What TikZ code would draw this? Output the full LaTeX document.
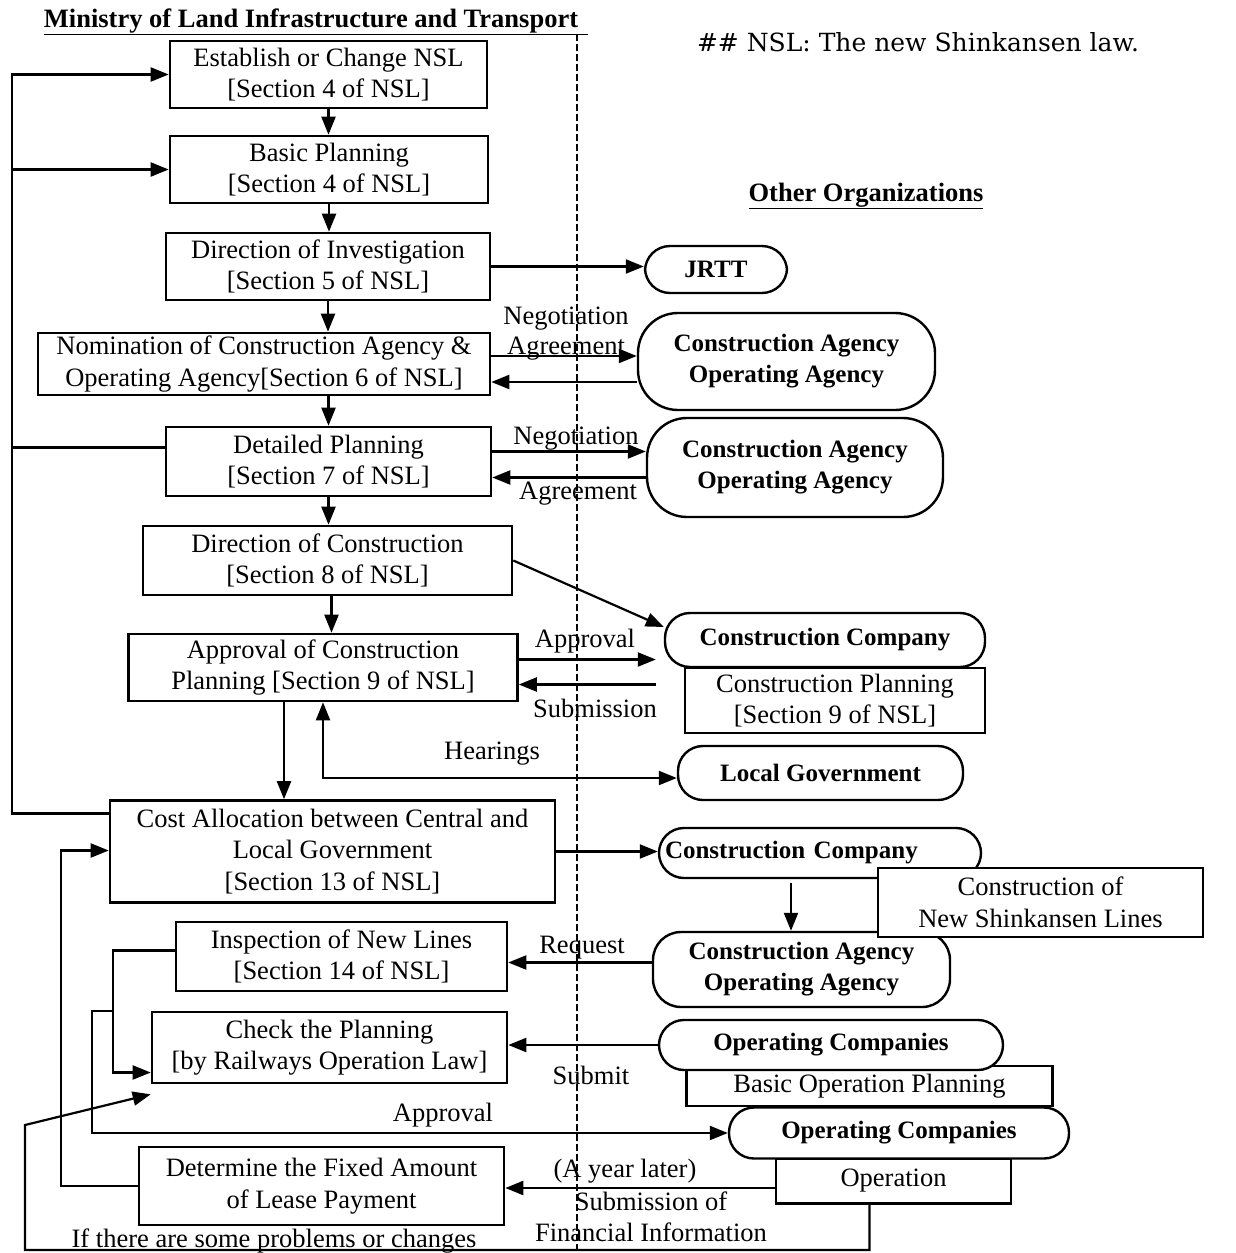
\documentclass[tikz,border=0pt]{standalone}
\usepackage{fontspec}
\setmainfont{Liberation Serif}
\newfontfamily\notafont{DejaVu Serif}
\usetikzlibrary{arrows.meta}
\tikzstyle{boxministero} = [rectangle, draw, line width=2.6pt, fill=white, align=center, inner sep=0pt]
\tikzstyle{boxente} = [rectangle, rounded corners=25pt, draw, line width=2.4pt, fill=white, align=center, inner sep=0pt, font=\fontsize{25}{31}\selectfont\bfseries]
\tikzstyle{freccia} = [line width=2.2pt, -{Triangle[length=18pt,width=14pt]}]
\tikzstyle{doppiafreccia} = [line width=2.2pt, {Triangle[length=18pt,width=14pt]}-{Triangle[length=18pt,width=14pt]}]
\tikzstyle{linea} = [line width=2.2pt]
\tikzstyle{etichetta} = [inner sep=0pt, text height=18pt, text depth=6pt]

\begin{document}
\begin{tikzpicture}[x=1pt, y=-1pt, font=\fontsize{26.5}{31.5}\selectfont]
\useasboundingbox (0,0) rectangle (1235,1253);

\draw[line width=1.8pt, dash pattern=on 7pt off 3pt] (577,34) -- (577,1253);

\node (titolo) [inner sep=0pt] at (316,22) {\underline{\textbf{Ministry of Land Infrastructure and Transport}\hspace{10pt}}};
\node (altri) [inner sep=0pt] at (866,196) {\underline{\textbf{Other Organizations}}};
\node (nota) [inner sep=0pt, font=\notafont\fontsize{25}{30}\selectfont] at (918,42) {\#\# NSL: The new Shinkansen law.};

\node (1) [boxministero, minimum width=317pt, minimum height=67pt] at (328.5,74.5) {Establish or Change NSL\\{[Section 4 of NSL]}};
\node (2) [boxministero, minimum width=318pt, minimum height=67pt] at (329,169.5) {Basic Planning\\{[Section 4 of NSL]}};
\node (3) [boxministero, minimum width=324pt, minimum height=67pt] at (328,266.5) {Direction of Investigation\\{[Section 5 of NSL]}};
\node (4) [boxministero, minimum width=452pt, minimum height=62pt] at (264,364) {Nomination of Construction Agency \&\\Operating Agency[Section 6 of NSL]};
\node (5) [boxministero, minimum width=325pt, minimum height=69pt] at (328.5,461.5) {Detailed Planning\\{[Section 7 of NSL]}};
\node (6) [boxministero, minimum width=369pt, minimum height=69pt] at (327.5,560.5) {Direction of Construction\\{[Section 8 of NSL]}};
\node (7) [boxministero, minimum width=389pt, minimum height=67pt] at (323,667.5) {Approval of Construction\\Planning [Section 9 of NSL]};
\node (8) [boxministero, minimum width=445pt, minimum height=102pt] at (332.5,851.5) {Cost Allocation between Central and\\Local Government\\{[Section 13 of NSL]}};
\node (9) [boxministero, minimum width=331pt, minimum height=69pt] at (341.5,956.5) {Inspection of New Lines\\{[Section 14 of NSL]}};
\node (10) [boxministero, minimum width=355pt, minimum height=71pt] at (329.5,1047.5) {Check the Planning\\{[by Railways Operation Law]}};
\node (11) [boxministero, minimum width=365pt, minimum height=78pt] at (321.5,1186) {Determine the Fixed Amount\\of Lease Payment};

\node (jrtt) [boxente, minimum width=142pt, minimum height=47pt] at (716,269.5) {JRTT};
\node (ca1) [boxente, rounded corners=40pt, minimum width=297pt, minimum height=97pt] at (786.5,361.5) {Construction Agency\\Operating Agency};
\node (ca2) [boxente, rounded corners=40pt, minimum width=296pt, minimum height=99pt] at (795,467.5) {Construction Agency\\Operating Agency};
\node (cp) [boxministero, minimum width=300pt, minimum height=65pt] at (835,700.5) {Construction Planning\\{[Section 9 of NSL]}};
\node (cc1) [boxente, minimum width=320pt, minimum height=54pt] at (825,640) {Construction Company};
\node (lg) [boxente, minimum width=285pt, minimum height=54pt] at (820.5,773) {Local Government};
\node (cc2) [boxente, minimum height=50pt, text width=310pt, align=left, inner xsep=6pt] at (820,853) {Construction Company};
\node (ca3) [boxente, rounded corners=28pt, minimum width=297pt, minimum height=75pt] at (801.5,969.5) {Construction Agency\\Operating Agency};
\node (cnsl) [boxministero, minimum width=325pt, minimum height=69pt] at (1040.5,902.5) {Construction of\\New Shinkansen Lines};
\node (bop) [boxministero, minimum width=366pt, minimum height=40pt] at (869.5,1086) {Basic Operation Planning};
\node (opc1) [boxente, minimum width=344pt, minimum height=50pt] at (831,1045) {Operating Companies};
\node (op) [boxministero, minimum width=235pt, minimum height=45pt] at (893.5,1181) {Operation};
\node (opc2) [boxente, minimum width=340pt, minimum height=51pt] at (899,1133) {Operating Companies};

\draw[freccia] (1.south) -- (1.south |- 2.north);
\draw[freccia] (2.south) -- (2.south |- 3.north);
\draw[freccia] (3.south) -- (3.south |- 4.north);
\draw[freccia] (5.north |- 4.south) -- (5.north);
\draw[freccia] (5.south) -- (5.south |- 6.north);
\draw[freccia] ([xshift=4pt]6.south) -- ([xshift=4pt]6.south |- 7.north);
\draw[freccia] ([xshift=-39pt]7.south) -- ([xshift=-39pt]7.south |- 8.north);
\draw[doppiafreccia] (7.south) |- ([yshift=-5pt]lg.west);

\coordinate (sx) at (12,0);
\draw[freccia] ([yshift=38pt]8.west) -- ([yshift=38pt]8.west -| sx) |- (1.west);
\draw[freccia] (sx |- 2.west) -- (2.west);
\draw[linea] ([yshift=14pt]5.west) -- ([yshift=14pt]5.west -| sx);

\coordinate (dx) at (61,0);
\draw[freccia] (11.west) -- (11.west -| dx) |- ([yshift=1pt]8.west);

\coordinate (ix) at (113,0);
\draw[freccia] ([yshift=6pt]9.west) -- ([yshift=6pt]9.west -| ix) |- ([yshift=-25pt]10.west);
\coordinate (ax) at (92,0);
\draw[freccia] (ix |- 10.north) -- (ax |- 10.north) |- (opc2.west);

\coordinate (pb) at (25,1250);
\coordinate (pt) at (25,1125);
\draw[freccia] ([xshift=-24pt]op.south) |- (pb) -- (pt) -- ([yshift=-10pt]10.south west);

\draw[freccia] (3.east) -- (3.east -| jrtt.west);
\draw[freccia] ([yshift=8pt]4.east) -- ([yshift=8pt]4.east -| ca1.west);
\draw[freccia] ([yshift=-18pt]4.east -| ca1.west) -- ([yshift=-18pt]4.east);
\draw[freccia] ([yshift=10pt]5.east) -- ([yshift=10pt]5.east -| ca2.west);
\draw[freccia] ([yshift=-16pt]5.east -| ca2.west) -- ([yshift=-16pt]5.east);
\draw[freccia] (6.east) -- ([yshift=13pt]cc1.west);
\draw[freccia, shorten >=8pt] ([yshift=8pt]7.east) -- ([yshift=8pt]7.east -| cc1.west);
\draw[freccia, shorten <=8pt] ([yshift=-17pt]7.east -| cc1.west) -- ([yshift=-17pt]7.east);
\draw[freccia] (8.east) -- (8.east -| cc2.west);
\draw[freccia, shorten <=4pt] ([xshift=-29pt]cc2.south) -- ([xshift=-29pt]cc2.south |- ca3.north);
\draw[freccia] ([yshift=7pt]ca3.west) -- ([yshift=7pt]ca3.west -| 9.east);
\draw[freccia] (opc1.west) -- (opc1.west -| 10.east);
\draw[freccia] ([yshift=-7pt]op.west) -- ([yshift=-7pt]op.west -| 11.east);

\node (neg1) [etichetta] at (566,318) {Negotiation};
\node (agr1) [etichetta] at (566,348) {Agreement};
\node (neg2) [etichetta] at (576,438) {Negotiation};
\node (agr2) [etichetta] at (578,493) {Agreement};
\node (appr1) [etichetta] at (585,641) {Approval};
\node (subm) [etichetta] at (595,711) {Submission};
\node (hear) [etichetta] at (492,753) {Hearings};
\node (req) [etichetta] at (582,947) {Request};
\node (submit) [etichetta] at (591,1078) {Submit};
\node (appr2) [etichetta] at (443,1115) {Approval};
\node (year) [etichetta] at (625,1171) {(A year later)};
\node (fin) [align=center, inner sep=0pt] at (651,1217) {Submission of\\Financial Information};
\node (prob) [etichetta] at (274,1241) {If there are some problems or changes};

\end{tikzpicture}
\end{document}
